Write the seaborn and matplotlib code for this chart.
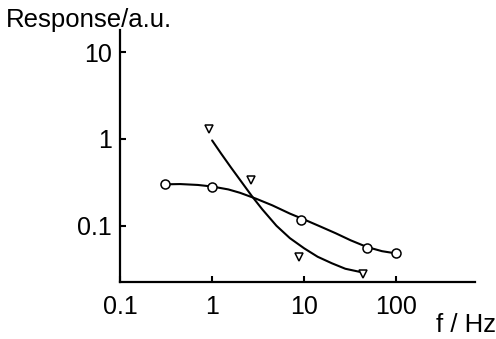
import numpy as np
import pandas as pd
import matplotlib
matplotlib.use('Agg')
import matplotlib.pyplot as plt
import seaborn as sns

# measured points
circ_f = [0.31, 1.0, 9.3, 48, 100]
circ_r = [0.30, 0.283, 0.118, 0.056, 0.048]
tri_f = [0.93, 2.65, 8.8, 43.5]
tri_r = [1.31, 0.34, 0.044, 0.028]

# hand-drawn fit curves
circ_curve_f = [0.31, 0.45, 0.7, 1.0, 1.5, 2.0, 3.0, 4.5, 7.0, 10, 15, 22, 32, 48, 70, 100]
circ_curve_r = [0.30, 0.302, 0.295, 0.283, 0.262, 0.240, 0.205, 0.172, 0.138, 0.118, 0.098, 0.082, 0.068, 0.057, 0.051, 0.048]
tri_curve_f = [1.0, 1.25, 1.6, 2.0, 2.7, 3.5, 5.0, 7.0, 10, 14, 20, 28, 40]
tri_curve_r = [0.96, 0.68, 0.47, 0.34, 0.22, 0.155, 0.10, 0.072, 0.055, 0.044, 0.037, 0.032, 0.0295]

x_ticks = [0.1, 1, 10, 100]
x_labels = ['0.1', '1', '10', '100']
y_ticks = [0.1, 1, 10]
y_labels = ['0.1', '1', '10']

sns.set_style('ticks')
plt.rcParams['font.family'] = ['Liberation Sans', 'DejaVu Sans']
plt.rcParams['text.color'] = 'black'

fig = plt.figure(figsize=(4.96, 3.39), dpi=100)
ax = fig.add_axes([0.242, 0.168, 0.716, 0.744])

sns.lineplot(x=circ_curve_f, y=circ_curve_r, ax=ax, color='black',
             linewidth=1.5, sort=False, zorder=2)
sns.lineplot(x=tri_curve_f, y=tri_curve_r, ax=ax, color='black',
             linewidth=1.5, sort=False, zorder=2)
ax.plot(circ_f, circ_r, linestyle='none', marker='o', markersize=6.5,
        markerfacecolor='white', markeredgecolor='black',
        markeredgewidth=1.1, zorder=3)
ax.plot(tri_f, tri_r, linestyle='none', marker='v', markersize=5.5,
        markerfacecolor='white', markeredgecolor='black',
        markeredgewidth=1.1, zorder=3)

ax.set_xscale('log')
ax.set_yscale('log')
ax.set_xlim(0.1, 720)
ax.set_ylim(0.0225, 18)
ax.set_xticks(x_ticks)
ax.set_xticklabels(x_labels)
ax.set_yticks(y_ticks)
ax.set_yticklabels(y_labels)
ax.minorticks_off()
ax.tick_params(direction='in', length=4.5, width=1.5, labelsize=18,
               colors='black')
ax.tick_params(axis='x', pad=9)
ax.tick_params(axis='y', pad=6)
for s in ['top', 'right']:
    ax.spines[s].set_visible(False)
for s in ['left', 'bottom']:
    ax.spines[s].set_linewidth(1.6)
    ax.spines[s].set_color('black')

fig.text(0.012, 0.94, 'Response/a.u.', fontsize=18.5, ha='left', va='center')
fig.text(1.0, 0.04, 'f / Hz', fontsize=18.5, ha='right', va='center')

fig.savefig('out.png', dpi=100)
